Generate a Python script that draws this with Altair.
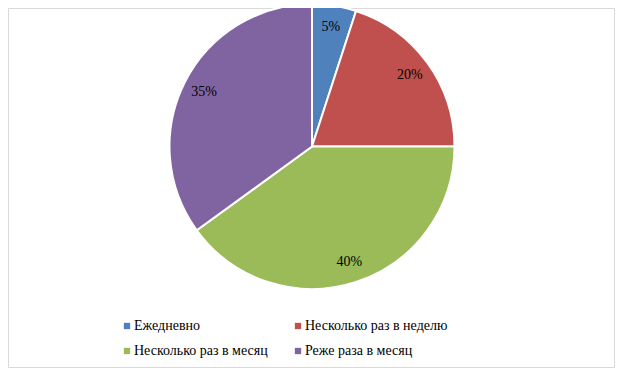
import altair as alt
import pandas as pd

categories = ["Ежедневно", "Несколько раз в неделю", "Несколько раз в месяц", "Реже раза в месяц"]
values = [5, 20, 40, 35]
labels = ["5%", "20%", "40%", "35%"]
colors = ["#4F81BD", "#C0504D", "#9BBB59", "#8064A2"]

df = pd.DataFrame({"cat": categories, "val": values, "lab": labels, "ord": list(range(len(categories)))})

# legend lays entries column by column: order the domain so rows read as in the original
leg_idx = [0, 2, 1, 3]
leg_domain = [categories[i] for i in leg_idx]
leg_range = [colors[i] for i in leg_idx]

CX, CY, R = 304, 138.5, 142.5
FONT = "Times New Roman, Tinos, Liberation Serif, Noto Serif, DejaVu Serif"

border = alt.Chart(pd.DataFrame({"a": [0]})).mark_rect(
    fill=None, stroke="#d9d9d9", strokeWidth=1
).encode(x=alt.value(0.5), x2=alt.value(606.5), y=alt.value(0.5), y2=alt.value(359.5))

base = alt.Chart(df).encode(
    theta=alt.Theta("val:Q", stack=True),
    order=alt.Order("ord:Q"),
)

arcs = base.mark_arc(outerRadius=R, stroke="white", strokeWidth=2).encode(
    color=alt.Color(
        "cat:N",
        scale=alt.Scale(domain=leg_domain, range=leg_range),
        legend=alt.Legend(
            title=None,
            orient="none",
            legendX=112,
            legendY=311,
            columns=2,
            symbolType="square",
            symbolSize=40,
            symbolStrokeWidth=0,
            labelFont=FONT,
            labelFontSize=14,
            labelColor="#000000",
            labelLimit=300,
            labelOffset=0,
            columnPadding=23,
            rowPadding=11,
        ),
    ),
    x=alt.value(CX),
    y=alt.value(CY),
)

texts = base.mark_text(radius=121, font=FONT, fontSize=14, color="#000000").encode(
    text="lab:N",
    x=alt.value(CX),
    y=alt.value(CY),
)

chart = alt.layer(border, arcs, texts).properties(
    width=607, height=360, autosize=alt.AutoSizeParams(type="none"), padding=0
).configure_view(stroke=None)

chart.save("out.html", embed_options={"renderer": "svg", "actions": False})
